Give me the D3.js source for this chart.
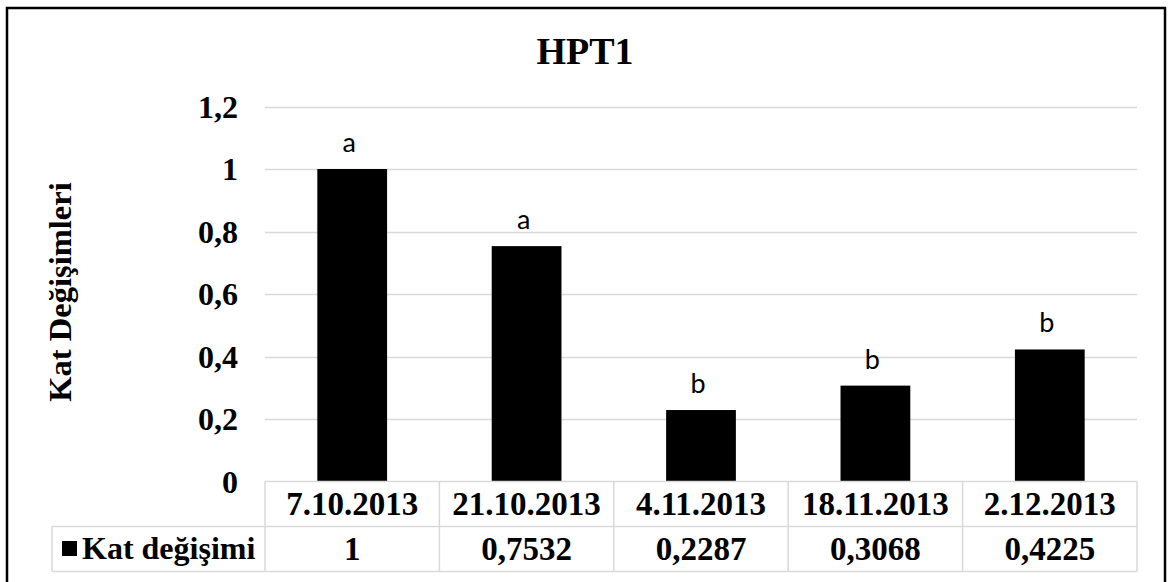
<!DOCTYPE html>
<html>
<head>
<meta charset="utf-8">
<script src="https://cdn.jsdelivr.net/npm/d3@7"></script>
<style>
  html, body { margin: 0; padding: 0; background: #fff; }
  svg { display: block; }
</style>
</head>
<body>
<svg id="chart" width="1173" height="582"></svg>
<script>
// HPT1 fold change by sampling date
const chartTitle = "HPT1";
const yAxisTitle = "Kat Değişimleri";
const seriesName = "Kat değişimi";
const dates = ["7.10.2013", "21.10.2013", "4.11.2013", "18.11.2013", "2.12.2013"];
const foldChange = [1, 0.7532, 0.2287, 0.3068, 0.4225];
const foldChangeText = ["1", "0,7532", "0,2287", "0,3068", "0,4225"];
const groupLetters = ["a", "a", "b", "b", "b"];
const yTicks = [0, 0.2, 0.4, 0.6, 0.8, 1, 1.2];

const serif = "'Liberation Serif', 'Times New Roman', serif";
const sans = "Lato, 'Open Sans', sans-serif";
const gridColor = "#d9d9d9";

const svg = d3.select("#chart");

// outer frame
svg.append("rect")
  .attr("x", 7).attr("y", 8)
  .attr("width", 1158).attr("height", 590)
  .attr("fill", "#fff")
  .attr("stroke", "#000").attr("stroke-width", 2.5);

const plot = { left: 265, right: 1137, top: 106.5, bottom: 481.5 };

const x = d3.scaleBand()
  .domain(dates)
  .range([plot.left, plot.right])
  .paddingInner(0.6).paddingOuter(0.3);

const xCell = d3.scaleBand().domain(dates).range([plot.left, plot.right]);

const y = d3.scaleLinear().domain([0, 1.2]).range([plot.bottom, plot.top]);

// horizontal gridlines
svg.append("g")
  .selectAll("line")
  .data(yTicks.filter(t => t > 0))
  .join("line")
  .attr("x1", plot.left).attr("x2", plot.right)
  .attr("y1", d => Math.round(y(d)) + 0.5).attr("y2", d => Math.round(y(d)) + 0.5)
  .attr("stroke", gridColor).attr("stroke-width", 1.5);

// y axis labels
const fmt = d => d3.format(".1~f")(d).replace(".", ",");
svg.append("g")
  .selectAll("text")
  .data(yTicks)
  .join("text")
  .attr("x", 238)
  .attr("y", d => y(d))
  .attr("dy", "0.35em")
  .attr("text-anchor", "end")
  .attr("font-family", serif).attr("font-weight", "bold").attr("font-size", 32)
  .text(fmt);

// bars
svg.append("g")
  .selectAll("rect")
  .data(dates)
  .join("rect")
  .attr("x", d => x(d))
  .attr("width", x.bandwidth())
  .attr("y", (d, i) => y(foldChange[i]))
  .attr("height", (d, i) => plot.bottom - y(foldChange[i]))
  .attr("fill", "#000");

// significance letters
svg.append("g")
  .selectAll("text")
  .data(dates)
  .join("text")
  .attr("x", d => x(d) + x.bandwidth() / 2 - 3)
  .attr("y", (d, i) => y(foldChange[i]) - 17)
  .attr("text-anchor", "middle")
  .attr("font-family", sans).attr("font-size", 27)
  .text((d, i) => groupLetters[i]);

// data table
const rowTop = plot.bottom, rowMid = 526.5, rowBot = 571.5, legendLeft = 52;
const table = svg.append("g").attr("stroke", gridColor).attr("stroke-width", 1.5);
table.append("line").attr("x1", plot.left).attr("x2", plot.right).attr("y1", rowTop).attr("y2", rowTop);
table.append("line").attr("x1", legendLeft).attr("x2", plot.right).attr("y1", rowMid).attr("y2", rowMid);
table.append("line").attr("x1", legendLeft).attr("x2", plot.right).attr("y1", rowBot).attr("y2", rowBot);
table.append("line").attr("x1", legendLeft).attr("x2", legendLeft).attr("y1", rowMid).attr("y2", rowBot);
table.selectAll("line.div")
  .data(dates.concat(["end"]))
  .join("line").attr("class", "div")
  .attr("x1", (d, i) => plot.left + i * xCell.bandwidth())
  .attr("x2", (d, i) => plot.left + i * xCell.bandwidth())
  .attr("y1", rowTop).attr("y2", rowBot);

const cellText = svg.append("g")
  .attr("font-family", serif).attr("font-weight", "bold").attr("font-size", 33)
  .attr("text-anchor", "middle");
cellText.selectAll("text.date")
  .data(dates)
  .join("text").attr("class", "date")
  .attr("x", d => xCell(d) + xCell.bandwidth() / 2)
  .attr("y", (rowTop + rowMid) / 2 - 1).attr("dy", "0.35em")
  .text(d => d);
cellText.selectAll("text.val")
  .data(dates)
  .join("text").attr("class", "val")
  .attr("x", d => xCell(d) + xCell.bandwidth() / 2)
  .attr("y", (rowMid + rowBot) / 2 - 1).attr("dy", "0.35em")
  .text((d, i) => foldChangeText[i]);

// legend key in the table
svg.append("rect")
  .attr("x", 62).attr("y", 541).attr("width", 15).attr("height", 15)
  .attr("fill", "#000");
svg.append("text")
  .attr("x", 82).attr("y", (rowMid + rowBot) / 2 - 1).attr("dy", "0.35em")
  .attr("font-family", serif).attr("font-weight", "bold").attr("font-size", 32)
  .text(seriesName);

// title
svg.append("text")
  .attr("x", 585).attr("y", 64)
  .attr("text-anchor", "middle")
  .attr("font-family", serif).attr("font-weight", "bold").attr("font-size", 38)
  .text(chartTitle);

// y axis title
svg.append("text")
  .attr("transform", "translate(71,292) rotate(-90)")
  .attr("text-anchor", "middle")
  .attr("font-family", serif).attr("font-weight", "bold").attr("font-size", 32.5)
  .text(yAxisTitle);
</script>
</body>
</html>
